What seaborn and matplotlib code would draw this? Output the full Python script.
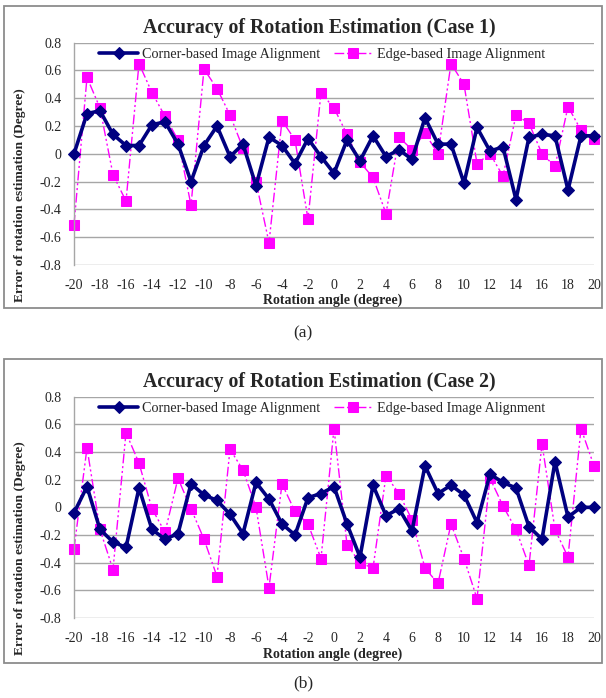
import matplotlib
matplotlib.use("Agg")
import matplotlib.pyplot as plt
import seaborn as sns
import pandas as pd
from matplotlib.patches import Rectangle

angles = list(range(-20, 21))

corner_case1 = [0.00, 0.29, 0.31, 0.14, 0.06, 0.06, 0.21, 0.23, 0.07, -0.20,
                0.06, 0.20, -0.02, 0.07, -0.23, 0.12, 0.06, -0.07, 0.11, -0.02,
                -0.14, 0.10, -0.05, 0.13, -0.02, 0.03, -0.04, 0.26, 0.07, 0.07,
                -0.21, 0.19, 0.02, 0.05, -0.33, 0.12, 0.14, 0.13, -0.26, 0.13, 0.13]
edge_case1 = [-0.51, 0.55, 0.33, -0.15, -0.34, 0.65, 0.44, 0.27, 0.10, -0.37,
              0.61, 0.47, 0.28, 0.04, -0.20, -0.64, 0.24, 0.10, -0.47, 0.44,
              0.33, 0.14, -0.06, -0.17, -0.43, 0.12, 0.03, 0.15, 0.00, 0.65,
              0.50, -0.07, 0.00, -0.16, 0.28, 0.22, 0.00, -0.09, 0.34, 0.17, 0.11]
corner_case2 = [-0.04, 0.15, -0.16, -0.25, -0.29, 0.14, -0.16, -0.23, -0.19, 0.17,
                0.09, 0.05, -0.05, -0.19, 0.18, 0.06, -0.12, -0.20, 0.07, 0.10,
                0.15, -0.12, -0.36, 0.16, -0.06, -0.01, -0.17, 0.30, 0.10, 0.16,
                0.09, -0.11, 0.24, 0.18, 0.14, -0.14, -0.23, 0.33, -0.07, 0.00, 0.00]
edge_case2 = [-0.30, 0.43, -0.16, -0.45, 0.54, 0.32, -0.01, -0.18, 0.21, -0.01,
              -0.23, -0.50, 0.42, 0.27, 0.00, -0.58, 0.17, -0.03, -0.12, -0.37,
              0.57, -0.27, -0.40, -0.44, 0.23, 0.10, -0.09, -0.44, -0.55, -0.12,
              -0.37, -0.66, 0.21, 0.01, -0.16, -0.42, 0.46, -0.16, -0.36, 0.57, 0.30]

titles = ["Accuracy of Rotation Estimation (Case 1)", "Accuracy of Rotation Estimation (Case 2)"]
series_names = ["Corner-based Image Alignment", "Edge-based Image Alignment"]
panel_labels = ["(a)", "(b)"]
xticks = list(range(-20, 21, 2))
yticks = [-0.8, -0.6, -0.4, -0.2, 0, 0.2, 0.4, 0.6, 0.8]
ytick_labels = ["-0.8", "-0.6", "-0.4", "-0.2", "0", "0.2", "0.4", "0.6", "0.8"]

sns.set_style("white")
plt.rcParams['font.family'] = ['Liberation Serif', 'DejaVu Serif']

W, H = 606, 698
fig = plt.figure(figsize=(W / 100, H / 100), dpi=100)

def fx(px):
    return px / W

def fy(py):
    return 1 - py / H

panels = [
    dict(box=(4, 6, 602, 308), plot=(74, 42.7, 594, 265), title_y=28, ylab_y=195, xlab_y=300, lab_y=333,
         corner=corner_case1, edge=edge_case1),
    dict(box=(4, 359, 602, 663), plot=(74, 396.7, 594, 618), title_y=382, ylab_y=548, xlab_y=654, lab_y=683,
         corner=corner_case2, edge=edge_case2),
]

for i, p in enumerate(panels):
    bx0, by0, bx1, by1 = p["box"]
    fig.patches.append(Rectangle((fx(bx0), fy(by1)), fx(bx1 - bx0), (by1 - by0) / H,
                                 transform=fig.transFigure, fill=False,
                                 edgecolor="#8c8c8c", linewidth=1.3))
    x0, y0, x1, y1 = p["plot"]
    ax = fig.add_axes([fx(x0), fy(y1), fx(x1 - x0), (y1 - y0) / H])
    df = pd.DataFrame({"angle": angles, "corner": p["corner"], "edge": p["edge"]})
    for yv in yticks:
        ax.axhline(yv, color="#a6a6a6", linewidth=1.0, zorder=0)
    sns.lineplot(data=df, x="angle", y="edge", ax=ax, color="#ff00ff", linewidth=1.0,
                 linestyle=(0, (7, 2, 1.5, 2, 1.5, 2)), marker="s", markersize=7.5,
                 markeredgecolor="#ff00ff", label=series_names[1], zorder=2, clip_on=False)
    sns.lineplot(data=df, x="angle", y="corner", ax=ax, color="#000080", linewidth=2.6,
                 marker="D", markersize=6, markeredgecolor="#000080",
                 label=series_names[0], zorder=3, clip_on=False)
    ax.set_xlim(-20, 20)
    ax.set_ylim(-0.8, 0.8)
    ax.set_xticks(xticks)
    ax.set_xticklabels([str(t) for t in xticks], fontsize=10)
    ax.set_yticks(yticks)
    ax.set_yticklabels(ytick_labels, fontsize=10)
    ax.tick_params(axis="x", length=0, pad=10)
    ax.tick_params(axis="y", length=0, pad=9)
    ax.set_xlabel("")
    ax.set_ylabel("")
    for s in ["top", "right", "bottom"]:
        ax.spines[s].set_visible(False)
    ax.spines["left"].set_color("#a6a6a6")
    ax.spines["left"].set_linewidth(1.0)
    handles, labels = ax.get_legend_handles_labels()
    order = [labels.index(series_names[0]), labels.index(series_names[1])]
    ax.legend([handles[j] for j in order], [labels[j] for j in order],
              loc="center left", bbox_to_anchor=(0.038, 0.945), ncol=2, frameon=False,
              fontsize=10.2, handlelength=2.7, columnspacing=1.0, handletextpad=0.3,
              borderaxespad=0)
    fig.text(fx(319), fy(p["title_y"]), titles[i], ha="center", va="center",
             fontsize=14.3, fontweight="bold")
    fig.text(fx(20), fy(p["ylab_y"]), "Error of rotation estimation (Degree)", ha="center",
             va="center", rotation=90, fontsize=9.7, fontweight="bold")
    fig.text(fx(333), fy(p["xlab_y"]), "Rotation angle (degree)", ha="center", va="center",
             fontsize=10, fontweight="bold")
    fig.text(fx(303), fy(p["lab_y"]), panel_labels[i], ha="center", va="center", fontsize=12.5)

fig.savefig("out.png", dpi=100, facecolor="white")
